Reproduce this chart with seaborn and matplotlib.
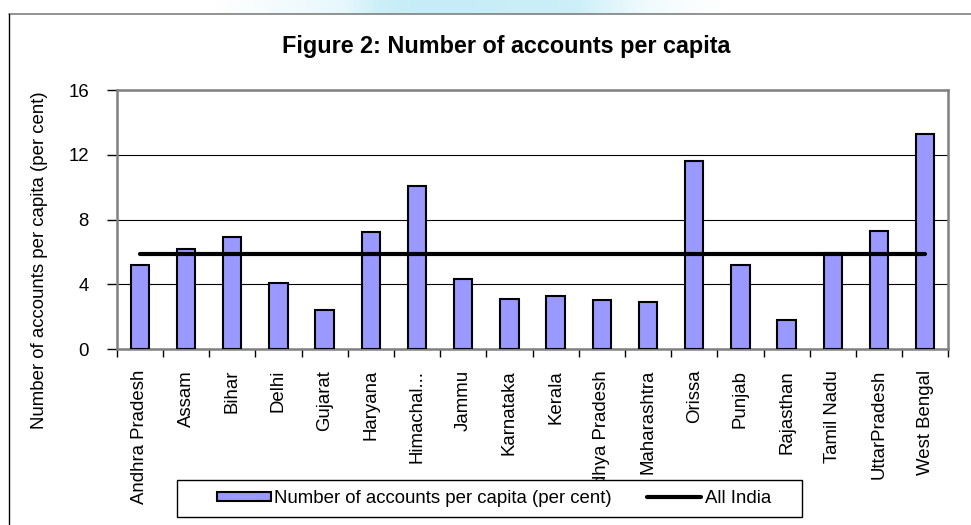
import numpy as np
import matplotlib
matplotlib.use("Agg")
import matplotlib.pyplot as plt
import seaborn as sns
from matplotlib.patches import Patch, Rectangle
from matplotlib.lines import Line2D

# Accounts per capita by state (per cent), with the all-India average
STATES = [
    "Andhra Pradesh", "Assam", "Bihar", "Delhi", "Gujarat", "Haryana",
    "Himachal...", "Jammu", "Karnataka", "Kerala", "Madhya Pradesh",
    "Maharashtra", "Orissa", "Punjab", "Rajasthan", "Tamil Nadu",
    "UttarPradesh", "West Bengal",
]
ACCOUNTS_PER_CAPITA = [5.2, 6.2, 6.9, 4.1, 2.4, 7.2, 10.1, 4.3, 3.1,
                       3.3, 3.0, 2.9, 11.6, 5.2, 1.8, 5.9, 7.3, 13.3]
ALL_INDIA = 5.85
Y_TICKS = [0, 4, 8, 12, 16]

TITLE = "Figure 2: Number of accounts per capita"
Y_LABEL = "Number of accounts per capita (per cent)"
BAR_LABEL = "Number of accounts per capita (per cent)"
LINE_LABEL = "All India"

sns.set_style("white")
plt.rcParams["font.family"] = ["Liberation Sans", "DejaVu Sans"]
plt.rcParams["text.color"] = "black"
plt.rcParams["xtick.color"] = "black"
plt.rcParams["ytick.color"] = "black"
plt.rcParams["xtick.labelcolor"] = "black"
plt.rcParams["ytick.labelcolor"] = "black"

W, H = 971, 525
FS = 13.4
BAR_COLOR = "#9999ff"
SPINE_GREY = "#808080"

fig = plt.figure(figsize=(W / 100, H / 100), dpi=100)
fig.patch.set_facecolor("white")


def fx(px):
    return px / W


def fy(py):
    return 1 - py / H


ax = fig.add_axes([fx(116.7), fy(349), fx(948.3 - 116.7), (349 - 90) / H])

sns.barplot(x=STATES, y=ACCOUNTS_PER_CAPITA, ax=ax, color=BAR_COLOR,
            saturation=1, width=0.4, edgecolor="black", linewidth=1.5,
            zorder=3)
for bar in ax.patches:
    bar.set_facecolor(BAR_COLOR)

positions = np.arange(len(STATES))
sns.lineplot(x=positions, y=[ALL_INDIA] * len(STATES), ax=ax,
             color="black", linewidth=3, sort=False, zorder=4)

ax.set_xlim(-0.5, len(STATES) - 0.5)
ax.set_ylim(Y_TICKS[0], Y_TICKS[-1])
ax.set_yticks(Y_TICKS)
ax.set_yticklabels([str(t) for t in Y_TICKS], fontsize=FS, color="black")
ax.set_xticks(positions)
ax.set_xticklabels(STATES, rotation=90, fontsize=FS, va="top", ha="center",
                   color="black")
ax.set_xticks(np.arange(len(STATES) + 1) - 0.5, minor=True)
ax.tick_params(axis="x", which="major", length=0, pad=15)
ax.tick_params(axis="x", which="minor", length=6, width=1, color="black",
               direction="out", bottom=True)
ax.tick_params(axis="y", length=7, width=1, color="black", direction="out",
               left=True, pad=13)
ax.set_xlabel("")
ax.set_ylabel("")

ax.yaxis.grid(True, color="black", linewidth=0.8, zorder=1)
ax.xaxis.grid(False)
ax.set_axisbelow(True)
for side in ("top", "right", "left", "bottom"):
    ax.spines[side].set_visible(True)
    ax.spines[side].set_color(SPINE_GREY)
    ax.spines[side].set_linewidth(1.8)

# Title and rotated y-axis label
fig.text(fx(506), fy(47), TITLE, ha="center", va="center",
         fontsize=16.8, fontweight="bold", color="black")
fig.text(fx(39), fy(260), Y_LABEL, rotation=90, ha="center", va="center",
         fontsize=FS, color="black")

# Page frame lines
fig.add_artist(Line2D([fx(9), fx(971)], [fy(14), fy(14)],
                      color=SPINE_GREY, linewidth=1.2))
fig.add_artist(Line2D([fx(9), fx(9)], [fy(14), fy(524)],
                      color="black", linewidth=1.0))

# Pale blue header band above the frame
band_ax = fig.add_axes([fx(200), fy(14), fx(520), 14 / H])
profile = np.array([0.0, 0.1, 0.2, 0.3, 0.45, 0.9, 1.0, 1.0, 1.0,
                    0.95, 0.95, 0.9, 0.6, 0.3, 0.15, 0.05])
cyan = np.array([0.78, 0.93, 0.97])
row = 1 - profile[:, None] * (1 - cyan[None, :])
band_ax.imshow(row[None, :, :], aspect="auto", interpolation="bilinear")
band_ax.axis("off")

# Legend box, drawn over the lower part of the long tick labels
fig.add_artist(Rectangle((fx(177), fy(517)), fx(802 - 177), 37 / H,
                         transform=fig.transFigure, facecolor="white",
                         edgecolor="black", linewidth=1.0, zorder=4))
handles = [
    Patch(facecolor=BAR_COLOR, edgecolor="black", linewidth=1.5),
    Line2D([], [], color="black", linewidth=3),
]
leg = fig.legend(handles, [BAR_LABEL, LINE_LABEL], loc="center",
                 bbox_to_anchor=(fx(494), fy(498.5)), ncol=2,
                 frameon=False, fontsize=FS, handlelength=2.9,
                 handleheight=0.35, handletextpad=0.2, columnspacing=1.9,
                 borderaxespad=0, borderpad=0, labelcolor="black")
leg.set_zorder(6)

fig.savefig("out.png", dpi=100)
